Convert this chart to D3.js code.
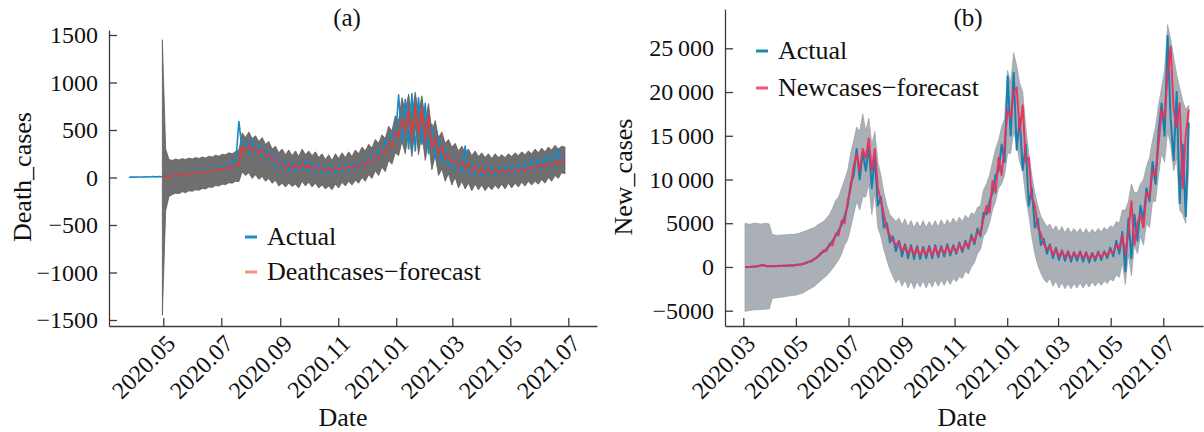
<!DOCTYPE html>
<html>
<head>
<meta charset="utf-8">
<script src="https://cdn.jsdelivr.net/npm/d3@7"></script>
<style>
  body { margin: 0; background: #fff; }
  text { font-family: "Liberation Serif", "Times New Roman", serif; fill: #111; }
</style>
</head>
<body>
<svg id="chart" width="1204" height="432"></svg>
<script>
// readings every 3.5 days (two per week)
const STEP_DAYS = 3.5;

// ---- panel (a): Death_cases ----
const aActualStart = "2020-03-26";
const aForecastStart = "2020-04-30";
const aActual = [
  3, 5, 4, 6, 5, 8, 6, 10, 7, 9,
  8, 22, 10, 28, 15, 35,
  25, 50, 30, 60, 40, 70,
  50, 85, 60, 100, 70, 120,
  90, 140, 100, 170, 130, 590,
  280, 380, 240, 400, 260, 350,
  220, 300, 160, 250, 110, 200,
  80, 170, 70, 160, 60, 150,
  80, 190, 70, 160, 60, 140,
  40, 130, 30, 120, 50, 130,
  60, 140, 70, 150, 90, 170,
  110, 200, 140, 240, 170, 300,
  220, 400, 300, 480, 380, 870,
  380, 820, 300, 880, 280, 840,
  350, 780, 250, 560, 200, 420,
  150, 300, 110, 250, 90, 200,
  60, 330, 40, 150, 20, 120,
  10, 110, 30, 120, 20, 100,
  40, 120, 30, 130, 40, 150,
  50, 160, 60, 190, 70, 200,
  90, 230, 100, 260, 110, 300, 150, 200
];
const aForecast = [
  10, 14, 12, 20, 18, 26,
  28, 38, 34, 46, 42, 55,
  52, 66, 60, 78, 72, 92,
  86, 110, 100, 128, 118, 145,
  330, 260, 340, 280, 320, 250,
  290, 220, 240, 170, 200, 130,
  150, 90, 140, 100, 130, 85,
  150, 105, 135, 95, 120, 80,
  110, 70, 100, 65, 105, 80,
  110, 85, 120, 90, 135, 110,
  160, 130, 190, 160, 230, 200,
  280, 250, 370, 330, 470, 430,
  620, 480, 700, 420, 760, 460,
  720, 400, 650, 300, 430, 250,
  330, 190, 250, 150, 200, 120,
  170, 90, 140, 70, 120, 50,
  100, 40, 90, 50, 85, 45,
  80, 50, 85, 55, 90, 60,
  100, 70, 115, 80, 125, 95,
  140, 105, 155, 120, 170, 140, 190, 165
];
const aUpper = [
  1450, 300, 190, 180, 195, 185,
  200, 190, 205, 195, 210, 200,
  215, 205, 225, 215, 235, 225,
  245, 240, 260, 250, 275, 290,
  470, 420, 480, 410, 440, 380,
  420, 350, 380, 300, 330, 260,
  300, 240, 290, 230, 280, 220,
  300, 240, 280, 230, 270, 210,
  250, 190, 240, 180, 250, 200,
  260, 210, 270, 220, 290, 250,
  320, 280, 350, 310, 400, 360,
  450, 410, 540, 490, 650, 600,
  840, 700, 880, 650, 900, 680,
  860, 600, 780, 480, 600, 420,
  480, 360, 400, 320, 360, 280,
  330, 260, 300, 230, 280, 220,
  260, 210, 250, 200, 250, 210,
  240, 210, 250, 220, 260, 230,
  270, 240, 280, 250, 300, 260,
  310, 270, 320, 290, 340, 300, 330, 320
];
const aLower = [
  -1450, -350, -200, -180, -165, -170,
  -150, -160, -140, -145, -130, -135,
  -115, -120, -100, -105, -85, -90,
  -70, -75, -55, -60, -40, -45,
  60, 20, 50, -10, 30, -20,
  10, -40, -10, -60, -30, -90,
  -60, -100, -60, -95, -70, -110,
  -40, -90, -50, -100, -60, -110,
  -80, -120, -90, -130, -70, -110,
  -50, -90, -40, -80, -30, -60,
  0, -40, 30, -10, 70, 20,
  110, 60, 180, 140, 260, 230,
  380, 250, 480, 220, 540, 240,
  460, 180, 380, 80, 230, 20,
  90, -40, 40, -80, 0, -110,
  -40, -120, -60, -140, -70, -130,
  -80, -140, -90, -130, -80, -120,
  -70, -120, -60, -110, -60, -100,
  -50, -90, -40, -80, -40, -70,
  -20, -60, 0, -40, 20, -10, 50, 40
];
const aYTicks = [-1500, -1000, -500, 0, 500, 1000, 1500];
const aXTicks = ["2020-05-01", "2020-07-01", "2020-09-01", "2020-11-01",
                 "2021-01-01", "2021-03-01", "2021-05-01", "2021-07-01"];

// ---- panel (b): New_cases ----
const bStart = "2020-03-03";
const bActual = [
  0, 10, 20, 50, 80, 180, 220, 90, 70, 100,
  90, 130, 100, 160, 130, 200, 160, 240, 280, 320,
  420, 600, 650, 950, 1100, 1600, 1700, 2100, 2400, 3000,
  3500, 4200, 4800, 5800, 7000, 9500, 10500, 13500, 10000, 13200,
  11000, 13800, 9000, 12500, 7000, 8000, 4500, 5000, 2800, 3500,
  1800, 3000, 1200, 2600, 1000, 2500, 900, 2400, 900, 2300,
  1000, 2400, 1000, 2500, 1100, 2400, 1200, 2600, 1300, 2500,
  1500, 2800, 1700, 3000, 2100, 3700, 2600, 4400, 3500, 6200,
  6000, 7500, 8500, 10500, 11000, 14000, 12000, 21800, 15000, 22200,
  13400, 17000, 11100, 14000, 7000, 9000, 4500, 5500, 2500, 3200,
  1500, 2600, 1000, 2200, 800, 1900, 700, 1800, 600, 1700,
  700, 1800, 600, 1700, 500, 1600, 700, 1800, 800, 1800,
  1000, 2200, 1200, 3000, 1500, 4000, -500, 5500, 1000, 6000,
  3000, 7000, 5500, 9000, 7500, 12000, 9500, 15500, 18700, 15000,
  26400, 17000, 12200, 20000, 7300, 14000, 5800, 16500
];
const bForecast = [
  0, 10, 30, 40, 60, 150, 250, 100, 80, 90,
  100, 120, 110, 150, 140, 180, 170, 220, 260, 300,
  450, 560, 700, 900, 1200, 1400, 1900, 1800, 2700, 2500,
  3800, 3600, 5300, 5000, 7500, 9000, 11500, 13000, 11000, 13500,
  12500, 14700, 11000, 13500, 9000, 7600, 6000, 4400, 3600, 3000,
  2500, 2900, 1800, 2400, 1500, 2300, 1400, 2200, 1300, 2100,
  1400, 2200, 1300, 2300, 1400, 2200, 1500, 2400, 1600, 2300,
  1700, 2600, 1900, 2800, 2300, 3400, 2900, 4000, 3800, 5500,
  7000, 6200, 9800, 8500, 12500, 10500, 14000, 18000, 17000, 20000,
  20500, 15500, 18500, 12000, 12500, 8000, 7000, 4500, 3800, 2600,
  2000, 2400, 1400, 2000, 1200, 1800, 1100, 1700, 1000, 1600,
  1100, 1700, 1000, 1600, 900, 1500, 1000, 1600, 1100, 1700,
  1300, 1900, 1600, 2500, 2200, 3600, 1500, 4000, 7500, 2500,
  5000, 6000, 4500, 8500, 8000, 11000, 10500, 14000, 18000, 17000,
  22000, 25200, 18000, 16000, 18700, 9000, 15000, 18000
];
const bUpper = [
  5000, 4900, 4900, 5000, 5000, 4900, 4950, 5000, 4900, 3700,
  3650, 3600, 3650, 3650, 3700, 3750, 3700, 3800, 3850, 4000,
  4100, 4250, 4400, 4500, 4800, 5000, 5200, 5600, 6000, 6700,
  7600, 8000, 9000, 10000, 11000, 13000, 14500, 16000, 15500, 17500,
  15500, 17000, 14000, 15500, 12000, 10500, 8500, 7000, 6000, 5600,
  5200, 5600, 4800, 5500, 4600, 5300, 4500, 5200, 4500, 5300,
  4500, 5200, 4600, 5300, 4600, 5400, 4700, 5400, 4900, 5600,
  5000, 5700, 5200, 5900, 5500, 6200, 6000, 6800, 7000, 8800,
  9500, 10500, 12000, 13500, 14500, 16000, 17000, 22500, 21000, 24500,
  23000, 21000, 20000, 16000, 13000, 10500, 8500, 7000, 5800, 5200,
  4600, 4900, 4200, 4700, 4000, 4600, 3900, 4500, 3900, 4400,
  3900, 4400, 3800, 4400, 3800, 4300, 3900, 4400, 4000, 4500,
  4200, 4700, 4500, 5200, 5000, 6500, 6500, 7500, 9500, 8500,
  8500, 9500, 10000, 11500, 12500, 14500, 16000, 18500, 20500, 22500,
  27700, 26000, 24000, 22000, 20500, 19000, 18000, 18500
];
const bLower = [
  -5100, -5000, -4950, -4900, -4900, -4850, -4850, -4800, -4800, -3600,
  -3550, -3500, -3450, -3400, -3350, -3300, -3250, -3200, -3100, -3000,
  -2800, -2600, -2400, -2200, -1900, -1600, -1300, -1000, -600, -200,
  300, 800, 1500, 2500, 3100, 4500, 6000, 7500, 6500, 8000,
  8000, 9500, 6000, 8500, 4500, 3500, 2000, 800, -300, -1100,
  -1800, -1300, -2200, -1500, -2400, -1600, -2500, -1700, -2300, -1600,
  -2400, -1600, -2300, -1500, -2200, -1500, -2100, -1400, -2000, -1300,
  -1700, -1100, -1300, -500, -800, 0, 500, 1500, 2000, 3500,
  4000, 5000, 6500, 7500, 9000, 9500, 10500, 13000, 13000, 15500,
  14000, 12000, 11000, 8000, 6000, 3500, 1500, 200, -700, -1400,
  -1800, -1300, -2200, -1600, -2400, -1800, -2500, -1900, -2500, -1900,
  -2400, -1800, -2400, -1800, -2300, -1700, -2200, -1700, -2100, -1600,
  -1900, -1400, -1600, -900, -1200, 500, -2000, 1500, -1000, 2500,
  1500, 3500, 2500, 5000, 4500, 7500, 7500, 10500, 13000, 12000,
  15500, 14000, 11000, 12500, 6500, 6000, 5000, 11000
];
const bYTicks = [-5000, 0, 5000, 10000, 15000, 20000, 25000];
const bXTicks = ["2020-03-01", "2020-05-01", "2020-07-01", "2020-09-01", "2020-11-01",
                 "2021-01-01", "2021-03-01", "2021-05-01", "2021-07-01"];

const DAY = 864e5;
const parse = d3.utcParse("%Y-%m-%d");
const svg = d3.select("#chart");

function dated(start, values) {
  const t0 = parse(start).getTime();
  return values.map((v, i) => ({ date: new Date(t0 + i * STEP_DAYS * DAY), v: v }));
}

function bandOf(start, lo, hi) {
  const t0 = parse(start).getTime();
  return lo.map((l, i) => ({ date: new Date(t0 + i * STEP_DAYS * DAY), lo: l, hi: hi[i] }));
}

// scale pinned by two reference points, then stretched to the full axis length
function pinned(scale, refs, px, extent) {
  scale.domain(refs).range(px);
  scale.domain(extent.map(p => scale.invert(p))).range(extent);
  return scale;
}

function drawPanel(p) {
  const x = pinned(d3.scaleUtc(), p.xRefs.map(parse), p.xPx, [p.left, p.right]);
  const y = pinned(d3.scaleLinear(), p.yRefs, p.yPx, [p.bottom, p.top]);
  const g = svg.append("g");

  g.append("path")
    .datum(p.band)
    .attr("d", d3.area().x(d => x(d.date)).y0(d => y(d.lo)).y1(d => y(d.hi)))
    .attr("fill", p.bandFill)
    .attr("stroke", p.bandStroke)
    .attr("stroke-width", 0.7);

  const line = d3.line().x(d => x(d.date)).y(d => y(d.v));
  g.append("path").datum(p.actual).attr("d", line)
    .attr("fill", "none").attr("stroke", p.actualColor)
    .attr("stroke-width", p.lineWidth).attr("stroke-linejoin", "round");
  g.append("path").datum(p.forecast).attr("d", line)
    .attr("fill", "none").attr("stroke", p.forecastColor)
    .attr("stroke-width", p.lineWidth).attr("stroke-linejoin", "round")
    .attr("opacity", p.forecastOpacity);

  // axes, ticks pointing inward
  const yAxis = g.append("g")
    .attr("transform", `translate(${p.left},0)`)
    .call(d3.axisLeft(y).tickValues(p.yTicks).tickFormat(p.yFormat)
      .tickSizeInner(-8).tickSizeOuter(0).tickPadding(11));
  const xAxis = g.append("g")
    .attr("transform", `translate(0,${p.bottom})`)
    .call(d3.axisBottom(x).tickValues(p.xTicks.map(parse)).tickFormat(d3.utcFormat("%Y.%m"))
      .tickSizeInner(-8).tickSizeOuter(0));
  xAxis.selectAll(".tick text")
    .attr("x", 0).attr("y", 0).attr("dy", 0)
    .attr("text-anchor", "end")
    .attr("transform", "translate(13,19) rotate(-45)");
  [yAxis, xAxis].forEach(a => {
    a.selectAll("path, line").attr("stroke", "#3c3c3c").attr("stroke-width", 1.3);
    a.selectAll("text").attr("font-size", 24).attr("font-family", "Liberation Serif").attr("fill", "#111");
  });

  g.append("text").attr("x", p.titleX).attr("y", 26)
    .attr("text-anchor", "middle").attr("font-size", 25).text(p.title);
  g.append("text").attr("x", p.dateX).attr("y", 426)
    .attr("text-anchor", "middle").attr("font-size", 26).text("Date");
  g.append("text")
    .attr("transform", `translate(${p.yLabelX},177) rotate(-90)`)
    .attr("text-anchor", "middle").attr("font-size", 26).text(p.yLabel);

  // legend
  p.legend.forEach((it, i) => {
    const ly = p.legendY + i * p.legendGap;
    g.append("line")
      .attr("x1", p.legendX).attr("x2", p.legendX + 12)
      .attr("y1", ly).attr("y2", ly)
      .attr("stroke", it.color).attr("stroke-width", 3);
    g.append("text")
      .attr("x", p.legendX + 22).attr("y", ly + 8)
      .attr("font-size", 26).text(it.label);
  });
}

const bigFormat = v => {
  const s = d3.format("d")(v);
  return Math.abs(v) >= 10000 ? s.replace(/(\d{3})$/, "\u2009$1") : s;
};

drawPanel({
  left: 109, right: 597, top: 30, bottom: 326,
  xRefs: ["2020-05-01", "2021-07-01"], xPx: [163.3, 568.3],
  yRefs: [-1500, 1500], yPx: [320, 35],
  band: bandOf(aForecastStart, aLower, aUpper),
  actual: dated(aActualStart, aActual),
  forecast: dated(aForecastStart, aForecast),
  bandFill: "#6f6f6f", bandStroke: "#555",
  actualColor: "#1a8ac4", forecastColor: "#e8392f", forecastOpacity: 1, lineWidth: 1.6,
  yTicks: aYTicks, yFormat: d3.format("d"), xTicks: aXTicks,
  title: "(a)", titleX: 347, dateX: 343, yLabel: "Death_cases", yLabelX: 31,
  legendX: 245, legendY: 237, legendGap: 35,
  legend: [{ label: "Actual", color: "#1f8dc8" },
           { label: "Deathcases\u2212forecast", color: "#f58f8a" }]
});

drawPanel({
  left: 725, right: 1203, top: 9, bottom: 326,
  xRefs: ["2020-03-01", "2021-07-01"], xPx: [743.3, 1163.3],
  yRefs: [-5000, 25000], yPx: [310.7, 48.3],
  band: bandOf(bStart, bLower, bUpper),
  actual: dated(bStart, bActual),
  forecast: dated(bStart, bForecast),
  bandFill: "#aab0b5", bandStroke: "#959ca3",
  actualColor: "#1a7fb0", forecastColor: "#ea2f5a", forecastOpacity: 0.92, lineWidth: 2,
  yTicks: bYTicks, yFormat: bigFormat, xTicks: bXTicks,
  title: "(b)", titleX: 968, dateX: 962, yLabel: "New_cases", yLabelX: 632,
  legendX: 756, legendY: 51, legendGap: 37,
  legend: [{ label: "Actual", color: "#1d8e9e" },
           { label: "Newcases\u2212forecast", color: "#f0557a" }]
});
</script>
</body>
</html>
